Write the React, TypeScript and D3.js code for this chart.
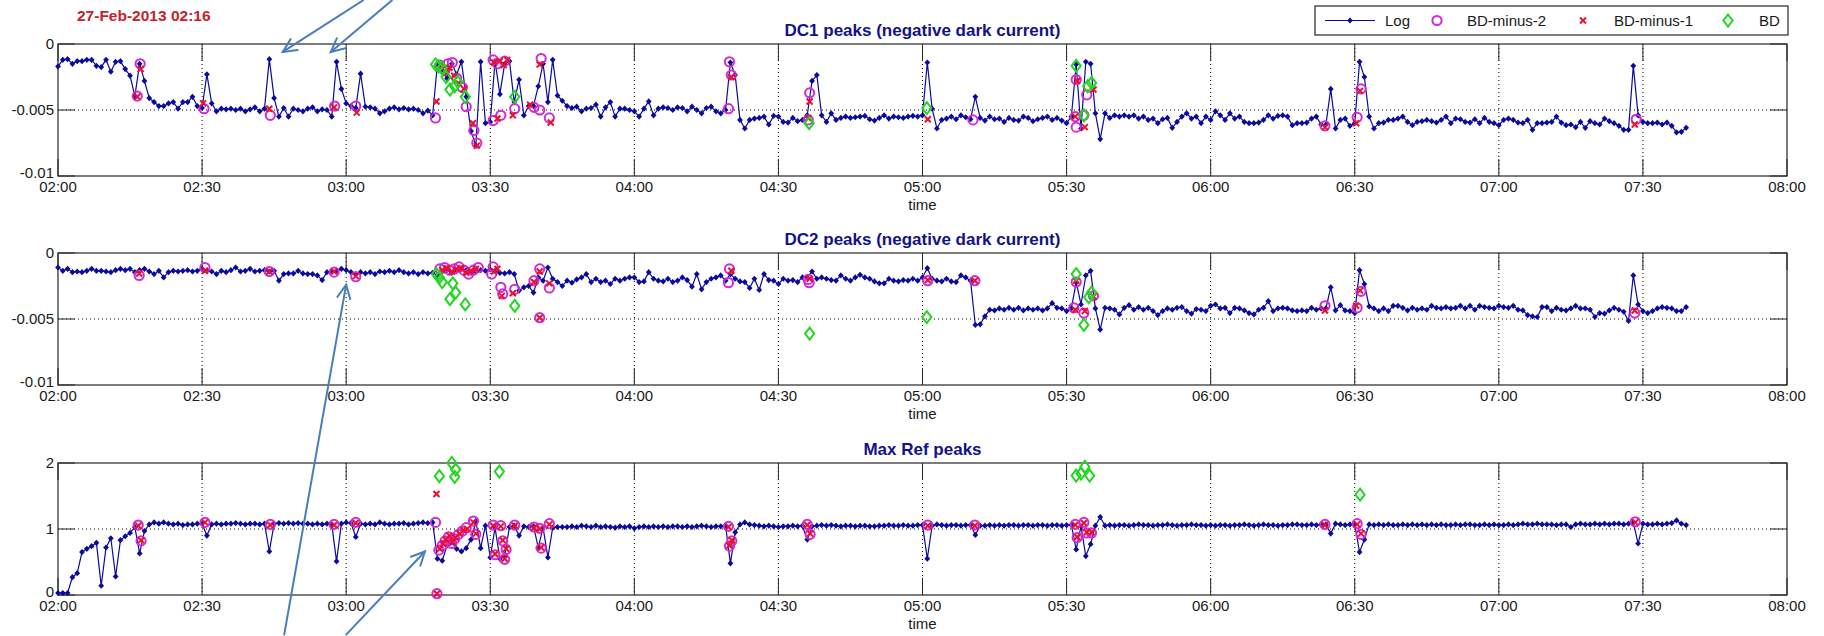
import React from 'react';
import * as d3 from 'd3';

// ---------------- DATA ----------------
const DATE_LABEL = '27-Feb-2013 02:16';
const TITLES = ['DC1 peaks (negative dark current)', 'DC2 peaks (negative dark current)', 'Max Ref peaks'];
const X_LABEL = 'time';
const START = new Date(2013, 1, 27, 2, 0, 0);
const END = new Date(2013, 1, 27, 8, 0, 0);
// dark-current panels are in units of 1e-3
const DC_TICKS = [-10, -5, 0];
const DC_TICK_LABELS = ['-0.01', '-0.005', '0'];
const REF_TICKS = [0, 1, 2];
const REF_TICK_LABELS = ['0', '1', '2'];
const LEGEND_LABELS = ['Log', 'BD-minus-2', 'BD-minus-1', 'BD'];

// Log series, one sample per minute from 02:00
const dc1Log = [
  -1.7, -1.2, -1.15, -1.5, -1.3, -1.3, -1.2, -1.2, -1.65, -1.75,
  -1.2, -2.1, -1.35, -1.3, -1.9, -2.4, -3.95, -1.5, -2.8, -4.1,
  -4.4, -4.7, -4.7, -4.5, -4.4, -4.9, -4.4, -4.4, -4.0, -4.7,
  -4.85, -2.3, -4.5, -5.1, -4.9, -4.95, -4.9, -5.0, -4.9, -5.1,
  -4.95, -4.8, -5.1, -4.9, -1.15, -4.1, -5.5, -4.85, -5.5, -4.9,
  -5.0, -5.1, -4.9, -4.8, -5.1, -4.95, -5.0, -5.5, -1.35, -3.4,
  -4.5, -4.7, -4.85, -2.25, -4.75, -4.8, -4.9, -5.25, -5.1, -4.9,
  -4.8, -4.95, -4.85, -4.95, -4.9, -5.0, -5.25, -5.05, -5.4, -1.5,
  -2.0, -2.6, -1.5, -2.3, -1.35, -4.0, -6.6, -7.7, -1.35, -6.0,
  -5.9, -1.3, -3.8, -1.5, -1.3, -4.4, -2.7, -5.4, -4.7, -4.7,
  -3.2, -1.5, -4.4, -1.2, -3.9, -4.3, -4.7, -4.85, -4.75, -5.1,
  -4.9, -4.85, -4.6, -5.5, -4.8, -4.4, -5.5, -4.9, -4.9, -5.0,
  -5.1, -5.5, -4.9, -4.35, -5.4, -4.9, -4.8, -4.85, -5.0, -4.8,
  -4.85, -5.1, -4.75, -5.0, -5.25, -4.85, -4.75, -5.1, -5.25, -5.0,
  -1.4, -2.35, -5.75, -6.4, -5.75, -5.65, -5.6, -5.5, -6.1, -5.45,
  -5.5, -5.9, -5.95, -5.6, -5.85, -5.75, -5.4, -2.8, -2.35, -5.4,
  -5.9, -5.25, -5.75, -5.6, -5.5, -5.6, -5.55, -5.5, -5.45, -5.7,
  -5.8, -5.6, -5.4, -5.65, -5.5, -5.55, -5.6, -5.5, -5.45, -5.5,
  -5.4, -1.4, -4.9, -6.4, -5.75, -5.65, -5.5, -5.7, -5.4, -5.55,
  -5.7, -4.0, -5.6, -5.8, -5.5, -5.7, -5.65, -5.9, -5.6, -5.75,
  -5.8, -5.5, -5.6, -5.85, -5.7, -5.6, -5.5, -5.75, -5.6, -5.8,
  -6.0, -5.5, -1.55, -6.4, -1.35, -1.5, -5.25, -7.2, -5.25, -5.6,
  -5.4, -5.5, -5.4, -5.5, -5.4, -5.65, -5.5, -5.75, -5.65, -6.0,
  -5.7, -5.6, -6.35, -5.9, -5.5, -5.25, -5.65, -5.5, -6.0, -5.5,
  -5.75, -5.1, -5.4, -5.75, -5.25, -5.65, -5.5, -5.9, -6.0, -6.0,
  -5.95, -5.75, -5.4, -5.65, -5.45, -5.4, -5.5, -6.15, -6.0, -6.0,
  -5.95, -5.65, -5.5, -6.1, -6.1, -3.4, -6.4, -5.75, -5.65, -6.2,
  -6.0, -1.35, -2.5, -5.5, -6.4, -6.0, -5.95, -5.75, -5.75, -5.65,
  -5.5, -5.9, -6.15, -5.9, -5.85, -5.75, -5.85, -5.95, -5.75, -5.5,
  -6.0, -5.65, -5.7, -5.9, -5.95, -5.7, -6.0, -5.6, -5.9, -6.0,
  -6.15, -5.75, -5.65, -5.75, -5.95, -6.0, -5.75, -6.5, -6.0, -6.0,
  -5.95, -5.9, -5.5, -5.95, -6.15, -6.1, -6.3, -5.9, -6.35, -5.85,
  -6.0, -6.1, -5.65, -5.85, -6.0, -6.2, -6.5, -6.5, -1.65, -5.4,
  -5.9, -6.0, -6.0, -5.95, -6.1, -5.95, -6.2, -6.7, -6.65, -6.35,
];

const dc2Log = [
  -1.1, -1.35, -1.2, -1.45, -1.4, -1.45, -1.35, -1.2, -1.35, -1.35,
  -1.4, -1.45, -1.3, -1.2, -1.3, -1.2, -1.45, -1.3, -1.2, -1.4,
  -1.6, -1.35, -1.85, -1.45, -1.35, -1.4, -1.35, -1.3, -1.4, -1.35,
  -1.2, -1.35, -1.4, -1.6, -1.35, -1.45, -1.3, -1.1, -1.4, -1.35,
  -1.2, -1.4, -1.35, -1.3, -1.4, -1.35, -2.1, -1.6, -1.55, -1.55,
  -1.35, -1.55, -1.6, -1.6, -1.7, -2.05, -1.45, -1.4, -1.35, -1.2,
  -1.3, -1.45, -1.6, -1.45, -1.55, -1.45, -1.6, -1.4, -1.45, -1.35,
  -1.45, -1.3, -1.45, -1.55, -1.45, -1.6, -1.45, -1.55, -1.5, -1.7,
  -1.4, -1.3, -1.5, -1.35, -1.25, -1.3, -1.5, -1.4, -1.3, -1.35,
  -1.25, -1.35, -1.5, -1.55, -1.45, -1.6, -2.85, -2.6, -2.5, -3.0,
  -1.85, -2.1, -1.1, -1.95, -2.2, -2.5, -2.1, -2.25, -2.0, -1.85,
  -1.6, -2.2, -1.95, -2.2, -2.1, -2.35, -1.95, -2.1, -1.95, -1.85,
  -1.85, -2.2, -2.15, -1.45, -1.95, -2.1, -2.15, -1.95, -2.2, -2.1,
  -1.85, -2.05, -2.55, -1.6, -2.75, -2.2, -1.95, -1.85, -1.7, -2.1,
  -1.6, -1.95, -2.15, -2.2, -2.65, -1.95, -2.8, -1.6, -2.05, -2.1,
  -2.35, -1.95, -2.1, -2.05, -2.2, -1.85, -1.85, -1.4, -1.95, -1.85,
  -1.95, -2.05, -2.1, -1.7, -1.95, -2.1, -1.85, -1.65, -1.85, -1.95,
  -2.15, -2.3, -2.3, -1.95, -2.1, -2.15, -2.05, -2.1, -1.95, -2.1,
  -1.85, -1.15, -1.95, -2.1, -2.15, -1.95, -2.15, -2.2, -1.7, -1.85,
  -2.1, -5.45, -5.4, -4.8, -4.3, -4.35, -4.2, -4.3, -4.15, -4.3,
  -4.15, -4.35, -4.2, -4.3, -4.2, -4.35, -4.2, -3.8, -4.15, -4.2,
  -4.4, -4.2, -2.2, -3.9, -1.7, -1.35, -4.2, -5.8, -4.15, -4.2,
  -4.3, -4.65, -4.15, -3.95, -4.3, -4.1, -4.3, -4.15, -4.4, -4.7,
  -4.4, -4.2, -4.3, -4.15, -4.1, -4.4, -4.6, -4.25, -4.3, -4.4,
  -4.0, -3.9, -4.2, -4.15, -4.55, -4.15, -4.2, -4.35, -4.55, -4.65,
  -4.3, -4.15, -3.65, -4.4, -4.2, -4.15, -4.2, -4.35, -4.4, -4.35,
  -4.4, -4.15, -4.3, -4.2, -4.2, -2.6, -4.35, -3.95, -4.35, -4.4,
  -4.55, -1.3, -2.35, -4.05, -4.2, -4.4, -4.2, -4.4, -4.0, -4.0,
  -4.15, -4.35, -4.15, -4.3, -4.2, -4.3, -4.0, -4.15, -4.2, -4.1,
  -4.2, -4.15, -4.0, -4.2, -4.0, -4.3, -4.0, -4.1, -4.15, -4.2,
  -4.0, -4.1, -4.15, -4.0, -4.3, -4.35, -4.7, -4.8, -4.85, -4.1,
  -4.1, -4.4, -4.15, -4.3, -4.35, -4.2, -4.0, -4.2, -4.2, -4.3,
  -4.85, -4.55, -4.6, -4.35, -4.15, -4.3, -4.45, -5.15, -1.7, -3.9,
  -4.4, -4.55, -4.4, -4.2, -4.1, -4.15, -4.2, -4.4, -4.4, -4.1,
];

const refLog = [
  0.03, 0.03, 0.03, 0.27, 0.33, 0.65, 0.7, 0.74, 0.79, 0.14,
  0.72, 0.86, 0.28, 0.83, 0.89, 0.94, 1.03, 0.63, 0.97, 1.07,
  1.1, 1.08, 1.1, 1.08, 1.07, 1.08, 1.06, 1.07, 1.07, 1.08,
  1.08, 0.9, 1.07, 1.08, 1.07, 1.08, 1.08, 1.09, 1.08, 1.07,
  1.08, 1.08, 1.07, 1.08, 0.66, 1.08, 1.09, 1.08, 1.09, 1.08,
  1.09, 1.08, 1.08, 1.07, 1.08, 1.07, 1.08, 1.07, 0.51, 1.08,
  1.1, 1.09, 0.88, 1.08, 1.07, 1.08, 1.07, 1.1, 1.08, 1.07,
  1.08, 1.08, 1.09, 1.07, 1.08, 1.09, 1.1, 1.09, 1.1, 0.55,
  0.52, 0.75, 0.8, 0.7, 0.66, 0.71, 0.84, 1.12, 0.71, 1.05,
  0.57, 1.02, 0.55, 0.6, 1.03, 1.05, 0.9, 1.04, 1.03, 1.04,
  0.72, 1.02, 0.57, 1.02, 1.03, 1.03, 1.03, 1.04, 1.03, 1.05,
  1.04, 1.03, 1.05, 1.03, 1.04, 1.03, 1.02, 1.04, 1.03, 1.04,
  1.01, 1.03, 1.04, 1.03, 1.04, 1.03, 1.04, 1.03, 1.04, 1.04,
  1.03, 1.04, 1.03, 1.04, 1.05, 1.04, 1.03, 1.04, 1.04, 1.05,
  0.48, 0.95, 1.07, 1.1, 1.07, 1.06, 1.05, 1.04, 1.05, 1.04,
  1.03, 1.04, 1.04, 1.05, 1.04, 1.05, 0.84, 1.04, 1.05, 1.06,
  1.05, 1.06, 1.05, 1.04, 1.05, 1.05, 1.04, 1.05, 1.05, 1.04,
  1.04, 1.05, 1.05, 1.06, 1.05, 1.05, 1.06, 1.05, 1.05, 1.06,
  1.06, 0.55, 1.05, 1.07, 1.06, 1.05, 1.06, 1.06, 1.05, 1.06,
  1.06, 0.91, 1.05, 1.05, 1.06, 1.05, 1.06, 1.05, 1.06, 1.06,
  1.05, 1.06, 1.06, 1.05, 1.06, 1.06, 1.05, 1.06, 1.06, 1.05,
  1.06, 1.06, 0.69, 1.04, 0.59, 0.77, 1.05, 1.18, 1.05, 1.06,
  1.05, 1.06, 1.06, 1.05, 1.06, 1.07, 1.06, 1.06, 1.05, 1.06,
  1.06, 1.07, 1.06, 1.05, 1.06, 1.06, 1.07, 1.06, 1.06, 1.05,
  1.06, 1.05, 1.06, 1.06, 1.05, 1.06, 1.06, 1.07, 1.06, 1.05,
  1.06, 1.07, 1.06, 1.06, 1.05, 1.06, 1.06, 1.07, 1.07, 1.06,
  1.06, 1.07, 1.06, 1.07, 1.07, 0.93, 1.08, 1.07, 1.06, 1.07,
  1.07, 0.65, 0.84, 1.07, 1.06, 1.07, 1.06, 1.07, 1.06, 1.06,
  1.07, 1.06, 1.07, 1.06, 1.07, 1.06, 1.07, 1.06, 1.07, 1.06,
  1.06, 1.07, 1.06, 1.07, 1.07, 1.06, 1.06, 1.07, 1.06, 1.07,
  1.06, 1.06, 1.07, 1.06, 1.07, 1.08, 1.07, 1.07, 1.08, 1.07,
  1.07, 1.07, 1.06, 1.07, 1.07, 1.03, 1.07, 1.08, 1.07, 1.07,
  1.08, 1.07, 1.08, 1.07, 1.08, 1.08, 1.07, 1.08, 1.1, 0.78,
  1.08, 1.07, 1.07, 1.08, 1.07, 1.08, 1.09, 1.13, 1.08, 1.06,
];

// event markers: [minutes after 02:00, value]
const dc1BDm2 = [
  [16.5, -3.95], [17.1, -1.5], [30.4, -4.9], [44.2, -5.4], [57.6, -4.7], [62, -4.7],
  [78.6, -5.6], [79.5, -1.6], [80.5, -2.0], [81.2, -1.5], [82.1, -1.4], [83, -2.6], [84.2, -3.3],
  [85, -4.75], [86.6, -6.55], [87.2, -7.5], [90.6, -1.2], [90.6, -5.8], [91.5, -1.5], [92.2, -5.4],
  [93, -1.3], [95.1, -4.9], [99.1, -4.8], [100.3, -5.0], [100.6, -1.1], [102.3, -5.6],
  [139.6, -4.9], [139.8, -1.35], [140.2, -2.35], [156.2, -5.75], [156.5, -3.7], [190.5, -5.75],
  [211.8, -5.5], [212, -2.7], [212, -6.3], [213.6, -5.4], [214.2, -3.85],
  [263.8, -6.2], [270.5, -5.55], [271.3, -3.4], [328.6, -5.7],
];
const dc1BDm1 = [
  [16.5, -4.0], [17.2, -1.9], [30.2, -4.5], [44, -4.9], [57.5, -4.8], [62.2, -5.2],
  [78.8, -4.35], [79.8, -1.6], [80.8, -2.2], [81.5, -1.8], [82.5, -2.4], [83.5, -3.0], [84.5, -3.4],
  [86.4, -6.0], [87.2, -7.7], [90.8, -1.4], [91.5, -5.65], [92, -1.3], [92.8, -1.6], [93.5, -1.2],
  [94.7, -5.4], [98.3, -4.6], [100.3, -1.55], [102.6, -5.95],
  [140.2, -2.5], [156.2, -5.6], [156.5, -4.35], [181.1, -5.7],
  [211.8, -5.5], [212.2, -2.8], [213.8, -6.3], [215.6, -3.45],
  [263.8, -6.3], [270.3, -6.0], [271.1, -3.55], [328.3, -6.1],
];
const dc1BD = [
  [78.6, -1.55], [79.2, -1.7], [80, -1.8], [80.8, -2.5], [81.6, -3.45], [82.6, -3.2], [83.2, -2.85],
  [84.8, -4.0], [95.1, -4.0], [156.4, -6.0], [180.9, -4.85],
  [212, -1.65], [213.6, -5.4], [214.4, -3.2], [215.2, -2.95],
];

const dc2BDm2 = [
  [16.9, -1.7], [30.6, -1.1], [44, -1.4], [57.5, -1.45], [62, -1.8],
  [79.5, -1.2], [80.5, -1.1], [81.5, -1.3], [82.5, -1.2], [83.5, -1.05], [84.5, -1.3], [85.5, -1.6],
  [86.5, -1.3], [87.5, -1.1], [90.6, -1.05], [90.3, -1.6], [92.2, -2.6], [92.6, -3.1], [95.1, -2.75],
  [99.1, -2.1], [100.3, -1.2], [100.3, -4.9], [102.3, -2.65],
  [139.6, -2.25], [139.8, -1.2], [156.2, -2.0], [156.4, -2.25], [181.1, -2.1], [190.9, -2.1],
  [212, -2.2], [211.5, -4.15], [213.6, -4.55], [215.6, -3.25],
  [263.8, -4.0], [270.5, -4.15], [271.3, -2.9], [328.3, -4.55],
];
const dc2BDm1 = [
  [16.9, -1.55], [30.6, -1.35], [44, -1.4], [57.5, -1.4], [62, -1.75],
  [80, -1.3], [81, -1.15], [82, -1.4], [83, -1.2], [84, -1.15], [85, -1.5], [86, -1.35], [87, -1.2],
  [90.8, -1.4], [91.5, -1.2], [92.4, -3.25], [94.7, -3.05], [99.1, -2.2], [100.3, -1.4], [100.3, -4.9],
  [102.3, -2.3], [140.2, -1.35], [156.5, -1.95], [181.1, -2.05], [190.9, -2.1],
  [212, -2.1], [211.8, -4.3], [213.8, -4.4], [215.6, -3.3],
  [263.8, -4.35], [270.3, -4.0], [271.1, -2.85], [328.3, -4.35],
];
const dc2BD = [
  [78.8, -1.6], [79.4, -1.85], [80, -2.2], [81.6, -3.5], [82.2, -2.3], [82.8, -3.0], [84.8, -3.9],
  [95.1, -4.0], [156.5, -6.1], [180.9, -4.85], [212, -1.6], [213.6, -5.45], [214.6, -3.35], [215.2, -3.0],
];

const refBDm2 = [
  [16.7, 1.06], [17.3, 0.82], [30.6, 1.1], [44.2, 1.07], [57.5, 1.07], [62, 1.1],
  [78.6, 1.1], [78.9, 0.02], [79.3, 0.68], [80, 0.75], [80.6, 0.82], [81.3, 0.88], [82, 0.78],
  [82.6, 0.85], [83.4, 0.92], [84.2, 0.97], [85, 1.02], [86.5, 1.12], [87, 0.92],
  [90.6, 1.06], [91, 0.61], [92.2, 1.05], [92.6, 0.82], [93, 0.54], [93.3, 0.69],
  [95.1, 1.06], [99.1, 1.03], [100.3, 1.01], [100.6, 0.71], [102.3, 1.08],
  [139.6, 1.04], [139.8, 0.74], [140.3, 0.82], [156, 1.07], [156.6, 0.92], [181.1, 1.06], [190.9, 1.06],
  [211.8, 1.07], [212.2, 0.87], [213.6, 1.1], [214.2, 0.94], [215.2, 0.94],
  [263.8, 1.07], [270.5, 1.08], [271.3, 0.92], [328.4, 1.11],
];
const refBDm1 = [
  [16.7, 1.05], [17.3, 0.83], [30.6, 1.1], [44.2, 1.06], [57.5, 1.06], [62, 1.09],
  [78.8, 1.53], [78.9, 0.02], [79.5, 0.7], [80.2, 0.78], [80.8, 0.84], [81.5, 0.9], [82.2, 0.8],
  [82.8, 0.87], [83.6, 0.93], [84.4, 0.98], [85.2, 1.0], [86.5, 1.1], [87, 0.93],
  [90.6, 1.05], [91, 0.62], [92.2, 1.04], [92.6, 0.83], [93, 0.55], [93.3, 0.7],
  [95.1, 1.05], [99.1, 1.02], [100.3, 1.0], [100.6, 0.72], [102.3, 1.07],
  [139.6, 1.03], [139.8, 0.75], [140.3, 0.83], [156, 1.06], [156.6, 0.93], [181.1, 1.05], [190.9, 1.05],
  [211.8, 1.06], [212.2, 0.88], [213.6, 1.09], [214.2, 0.95], [215.2, 0.95],
  [263.8, 1.06], [270.5, 1.07], [271.3, 0.93], [328.4, 1.1],
];
const refBD = [
  [79.4, 1.8], [82, 2.0], [82.8, 1.9], [82.6, 1.79], [91.9, 1.87],
  [212, 1.81], [213, 1.84], [213.8, 1.94], [214.8, 1.81], [271.1, 1.52],
];

// annotation arrows (panel index, minutes, value) tail -> head
const ARROWS = [
  { from: { p: 0, t: 63.5, v: 3.3 }, to: { p: 0, t: 46.8, v: -0.6 } },
  { from: { p: 0, t: 69.5, v: 3.3 }, to: { p: 0, t: 56.8, v: -0.6 } },
  { from: { p: 2, t: 47.1, v: -0.6 }, to: { p: 1, t: 60, v: -2.4 } },
  { from: { p: 2, t: 60, v: -0.6 }, to: { p: 2, t: 76.4, v: 0.66 } },
];

// ---------------- LAYOUT / STYLE ----------------
const W = 1824;
const H = 636;
const PL = 58;
const PR = 1787;
const TOPS = [44, 253, 463];
const PH = 132;
const FONT = '"Liberation Sans", Arial, Helvetica, sans-serif';
const C_LOG = '#0a0a9c';
const C_M2 = '#d42ad4';
const C_M1 = '#e8102e';
const C_BD = '#22d622';
const C_TITLE = '#12128a';
const C_DATE = '#c4232b';
const C_ARROW = '#4a7ebb';
const C_AXIS = '#262626';
const C_TEXT = '#1a1a1a';
const TICK = 17;
const FS = 15;

const tm = (m: number) => new Date(START.getTime() + m * 60000);

function diamondPath(cx: number, cy: number, rx: number, ry: number) {
  return `M${cx},${cy - ry}L${cx + rx},${cy}L${cx},${cy + ry}L${cx - rx},${cy}Z`;
}

function Circle({ cx, cy }: { cx: number; cy: number }) {
  return <circle cx={cx} cy={cy} r={4.6} fill="none" stroke={C_M2} strokeWidth={2} />;
}
function Cross({ cx, cy }: { cx: number; cy: number }) {
  const s = 3;
  return (
    <path
      d={`M${cx - s},${cy - s}L${cx + s},${cy + s}M${cx - s},${cy + s}L${cx + s},${cy - s}`}
      stroke={C_M1}
      strokeWidth={2}
      fill="none"
    />
  );
}
function GreenDiamond({ cx, cy }: { cx: number; cy: number }) {
  return <path d={diamondPath(cx, cy, 4.6, 6)} fill="none" stroke={C_BD} strokeWidth={2} />;
}

export default function App() {
  const x = d3.scaleTime().domain([START, END]).range([PL, PR]);
  const xTicks = x.ticks(d3.timeMinute.every(30)!);
  const fmt = d3.timeFormat('%H:%M');

  const panels = [
    { title: TITLES[0], domain: [-10, 0], ticks: DC_TICKS, labels: DC_TICK_LABELS, log: dc1Log, m2: dc1BDm2, m1: dc1BDm1, bd: dc1BD },
    { title: TITLES[1], domain: [-10, 0], ticks: DC_TICKS, labels: DC_TICK_LABELS, log: dc2Log, m2: dc2BDm2, m1: dc2BDm1, bd: dc2BD },
    { title: TITLES[2], domain: [0, 2], ticks: REF_TICKS, labels: REF_TICK_LABELS, log: refLog, m2: refBDm2, m1: refBDm1, bd: refBD },
  ].map((p, i) => ({
    ...p,
    top: TOPS[i],
    y: d3.scaleLinear().domain(p.domain).range([TOPS[i] + PH, TOPS[i]]),
  }));

  const pt = (e: { p: number; t: number; v: number }) => [x(tm(e.t)), panels[e.p].y(e.v)];

  const midX = (PL + PR) / 2;

  // legend layout
  const LG = { x0: 1315, x1: 1788, y0: 6, y1: 35 };
  const ly = (LG.y0 + LG.y1) / 2;

  return (
    <svg
      width={W}
      height={H}
      style={{ position: 'absolute', left: 0, top: 0, background: '#fff' }}
      fontFamily={FONT}
    >
      <rect x={0} y={0} width={W} height={H} fill="#fff" />
      <text x={77} y={21} fontSize={15.5} fontWeight="bold" fill={C_DATE}>
        {DATE_LABEL}
      </text>

      {panels.map((p, pi) => {
        const bottom = p.top + PH;
        const line = d3
          .line<number>()
          .x((_, i) => x(tm(i)))
          .y((d) => p.y(d));
        return (
          <g key={pi}>
            {/* grid */}
            {xTicks.slice(1, -1).map((t, i) => (
              <line key={'gx' + i} x1={x(t)} x2={x(t)} y1={p.top} y2={bottom} stroke="#000" strokeWidth={1} strokeDasharray="1,3" />
            ))}
            {p.ticks.slice(1, -1).map((v, i) => (
              <line key={'gy' + i} x1={PL} x2={PR} y1={p.y(v)} y2={p.y(v)} stroke="#000" strokeWidth={1} strokeDasharray="1,3" />
            ))}
            {/* ticks */}
            {xTicks.map((t, i) => (
              <g key={'tx' + i}>
                <line x1={x(t)} x2={x(t)} y1={bottom} y2={bottom - TICK} stroke={C_AXIS} />
                <line x1={x(t)} x2={x(t)} y1={p.top} y2={p.top + TICK} stroke={C_AXIS} />
                <text x={x(t)} y={bottom + 16} fontSize={FS} textAnchor="middle" fill={C_TEXT}>
                  {fmt(t)}
                </text>
              </g>
            ))}
            {p.ticks.map((v, i) => (
              <g key={'ty' + i}>
                <line x1={PL} x2={PL + TICK} y1={p.y(v)} y2={p.y(v)} stroke={C_AXIS} />
                <line x1={PR} x2={PR - TICK} y1={p.y(v)} y2={p.y(v)} stroke={C_AXIS} />
                <text x={PL - 4} y={p.y(v) + (i === 0 ? 2 : 5)} fontSize={FS} textAnchor="end" fill={C_TEXT}>
                  {p.labels[i]}
                </text>
              </g>
            ))}
            <rect x={PL} y={p.top} width={PR - PL} height={PH} fill="none" stroke={C_AXIS} strokeWidth={1.2} />
            <text x={midX} y={p.top - 8} fontSize={17} fontWeight="bold" textAnchor="middle" fill={C_TITLE}>
              {p.title}
            </text>
            <text x={midX} y={bottom + 34} fontSize={FS} textAnchor="middle" fill={C_TEXT}>
              {X_LABEL}
            </text>
            {/* log */}
            <path d={line(p.log) || ''} fill="none" stroke={C_LOG} strokeWidth={1.2} />
            {p.log.map((v, i) => (
              <path key={'lm' + i} d={diamondPath(x(tm(i)), p.y(v), 2.9, 3.1)} fill={C_LOG} />
            ))}
            {p.m2.map(([t, v], i) => (
              <Circle key={'c' + i} cx={x(tm(t))} cy={p.y(v)} />
            ))}
            {p.m1.map(([t, v], i) => (
              <Cross key={'x' + i} cx={x(tm(t))} cy={p.y(v)} />
            ))}
            {p.bd.map(([t, v], i) => (
              <GreenDiamond key={'d' + i} cx={x(tm(t))} cy={p.y(v)} />
            ))}
          </g>
        );
      })}

      {/* legend */}
      <g>
        <rect x={LG.x0} y={LG.y0} width={LG.x1 - LG.x0} height={LG.y1 - LG.y0} fill="#fff" stroke={C_AXIS} strokeWidth={1.2} />
        <line x1={1325} x2={1375} y1={ly} y2={ly} stroke={C_LOG} strokeWidth={1.2} />
        <path d={diamondPath(1350, ly, 2.9, 3.1)} fill={C_LOG} />
        <text x={1385} y={ly + 5.5} fontSize={FS} fill={C_TEXT}>{LEGEND_LABELS[0]}</text>
        <Circle cx={1437} cy={ly} />
        <text x={1467} y={ly + 5.5} fontSize={FS} fill={C_TEXT}>{LEGEND_LABELS[1]}</text>
        <Cross cx={1583} cy={ly} />
        <text x={1614} y={ly + 5.5} fontSize={FS} fill={C_TEXT}>{LEGEND_LABELS[2]}</text>
        <GreenDiamond cx={1728} cy={ly} />
        <text x={1759} y={ly + 5.5} fontSize={FS} fill={C_TEXT}>{LEGEND_LABELS[3]}</text>
      </g>

      {/* annotation arrows */}
      {ARROWS.map((a, i) => {
        const [x0, y0] = pt(a.from);
        const [x1, y1] = pt(a.to);
        const ang = Math.atan2(y1 - y0, x1 - x0);
        const L = 15;
        const sp = 0.45;
        const h1 = [x1 - L * Math.cos(ang - sp), y1 - L * Math.sin(ang - sp)];
        const h2 = [x1 - L * Math.cos(ang + sp), y1 - L * Math.sin(ang + sp)];
        return (
          <g key={'a' + i} stroke={C_ARROW} strokeWidth={2} fill="none" strokeLinecap="round">
            <line x1={x0} y1={y0} x2={x1} y2={y1} />
            <path d={`M${h1[0]},${h1[1]}L${x1},${y1}L${h2[0]},${h2[1]}`} />
          </g>
        );
      })}
    </svg>
  );
}
